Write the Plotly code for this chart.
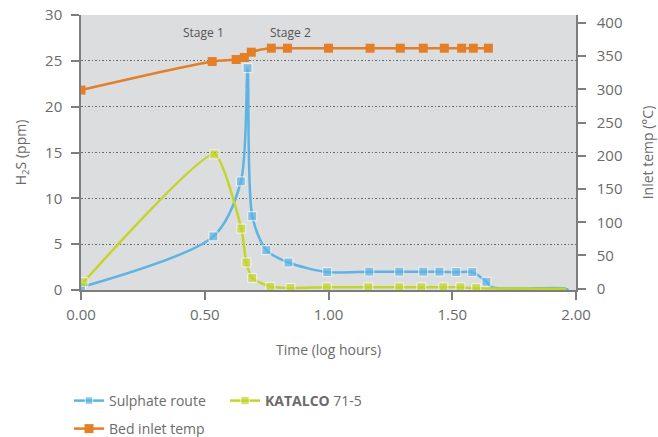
import plotly.graph_objects as go

# Time axis values (log hours) and H2S readings (ppm)
sulphate_time = [0.00, 0.535, 0.646, 0.673, 0.692, 0.749, 0.838, 0.995, 1.165,
                 1.286, 1.383, 1.448, 1.516, 1.581, 1.638, 1.66, 1.95, 1.97]
sulphate_h2s = [0.3, 5.85, 11.85, 24.2, 8.05, 4.35, 3.0, 1.95, 2.0,
                2.0, 2.0, 2.0, 1.95, 1.95, 0.9, 0.3, 0.2, 0.0]
sulphate_marked = 15

katalco_time = [0.01, 0.539, 0.648, 0.668, 0.692, 0.765, 0.846, 0.993, 1.161,
                1.286, 1.375, 1.464, 1.533, 1.597, 1.96]
katalco_h2s = [0.85, 14.8, 6.7, 3.0, 1.3, 0.35, 0.22, 0.3, 0.3,
               0.3, 0.3, 0.3, 0.3, 0.2, 0.15]
katalco_marked = 14

# Bed inlet temperature (deg C)
inlet_time = [0.00, 0.53, 0.627, 0.66, 0.688, 0.769, 0.834, 1.00, 1.168,
              1.29, 1.383, 1.468, 1.538, 1.585, 1.646]
inlet_temp = [299, 342, 345, 348, 356, 362, 362, 362, 362,
              362, 362, 362, 362, 362, 362]

x_ticks = [0, 0.5, 1.0, 1.5, 2.0]
x_tick_text = ["0.00", "0.50", "1.00", "1.50", "2.00"]
h2s_ticks = [0, 5, 10, 15, 20, 25, 30]
temp_ticks = [0, 50, 100, 150, 200, 250, 300, 350, 400]

stage_labels = ["Stage 1", "Stage 2"]
stage_x = [0.493, 0.845]
stage_y = [28.1, 28.1]

BLUE = "#5db3e3"
GREEN = "#c3d52c"
ORANGE = "#e47e27"
TEXT = "#6b6b6b"
AXIS = "#7d7d7d"
FONT = "Open Sans, Noto Sans, sans-serif"

W, H = 658, 437


def sizes(n_total, n_marked, s=9):
    return [s] * n_marked + [0] * (n_total - n_marked)


fig = go.Figure()

fig.add_trace(go.Scatter(
    x=sulphate_time, y=sulphate_h2s, name="Sulphate route",
    mode="lines+markers", line=dict(color=BLUE, width=2.5, shape="spline", smoothing=0.8),
    marker=dict(symbol="square", size=sizes(len(sulphate_time), sulphate_marked), color=BLUE),
    legend="legend",
))
fig.add_trace(go.Scatter(
    x=katalco_time, y=katalco_h2s, name="<b>KATALCO</b> 71-5",
    mode="lines+markers", line=dict(color=GREEN, width=2.5, shape="spline", smoothing=0.5),
    marker=dict(symbol="square", size=sizes(len(katalco_time), katalco_marked), color=GREEN),
    legend="legend",
))
fig.add_trace(go.Scatter(
    x=inlet_time, y=inlet_temp, name="Bed inlet temp", yaxis="y2",
    mode="lines+markers", line=dict(color=ORANGE, width=2.5, shape="spline", smoothing=0.8),
    marker=dict(symbol="square", size=9, color=ORANGE),
    legend="legend2",
))

for txt, sx, sy in zip(stage_labels, stage_x, stage_y):
    fig.add_annotation(x=sx, y=sy, text=txt, showarrow=False,
                       font=dict(family=FONT, size=12, color="#555555"))

axis_common = dict(
    showline=True, linecolor=AXIS, linewidth=1.5,
    ticks="outside", ticklen=8, tickwidth=1.5, tickcolor=AXIS,
    tickfont=dict(family=FONT, size=15, color=TEXT),
    zeroline=False, automargin=False,
)

legend_common = dict(
    orientation="h", xref="container", yref="container",
    xanchor="left", yanchor="middle", x=69 / W,
    font=dict(family=FONT, size=14, color=TEXT), itemwidth=30,
    bgcolor="rgba(0,0,0,0)",
)

fig.update_layout(
    width=W, height=H,
    margin=dict(l=81, r=82, t=15, b=147),
    paper_bgcolor="white", plot_bgcolor="#dcdddf",
    font=dict(family=FONT, color=TEXT),
    xaxis=dict(
        range=[0, 2], tickvals=x_ticks, ticktext=x_tick_text, showgrid=False,
        title=dict(text="Time (log hours)", font=dict(family=FONT, size=14, color=TEXT), standoff=22),
        ticklabelstandoff=2,
        **axis_common,
    ),
    yaxis=dict(
        range=[0, 30], tickvals=h2s_ticks, showgrid=True,
        gridcolor="#6a6a6a", gridwidth=1.2, griddash="1.5px,2px",
        title=dict(text="H<sub>2</sub>S (ppm)", font=dict(family=FONT, size=14, color=TEXT), standoff=15),
        ticklabelstandoff=6,
        **axis_common,
    ),
    yaxis2=dict(
        range=[-2, 412], tickvals=temp_ticks, overlaying="y", side="right", showgrid=False,
        title=dict(text="Inlet temp (°C)", font=dict(family=FONT, size=14, color=TEXT), standoff=22),
        ticklabelstandoff=8,
        **axis_common,
    ),
    legend=dict(y=1 - 401 / H, entrywidth=111, **legend_common),
    legend2=dict(y=1 - 429 / H, **legend_common),
)

fig.write_html("out.html")
